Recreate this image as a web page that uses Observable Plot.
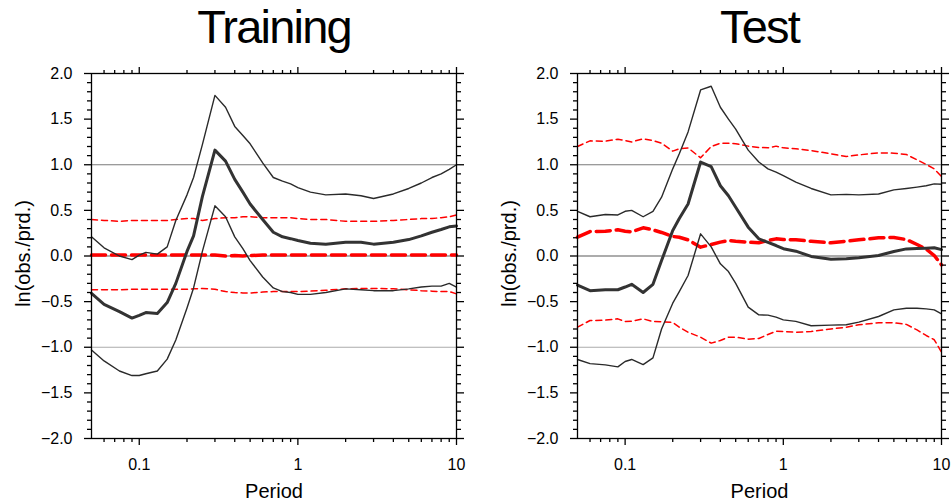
<!DOCTYPE html>
<html>
<head>
<meta charset="utf-8">
<script src="https://cdn.jsdelivr.net/npm/d3@7"></script>
<script src="https://cdn.jsdelivr.net/npm/@observablehq/plot@0.6"></script>
<style>
  html, body { margin: 0; padding: 0; background: white; }
  #chart { display: flex; width: 952px; height: 502px; }
</style>
</head>
<body>
<div id="chart"></div>
<script>
// ---- data ----
const periods = [0.05, 0.06, 0.075, 0.09, 0.1, 0.11, 0.13, 0.15, 0.17, 0.2, 0.22, 0.25, 0.3, 0.35, 0.4, 0.45, 0.5, 0.6, 0.7, 0.8, 0.9, 1, 1.2, 1.5, 2, 2.5, 3, 4, 5, 6, 7, 8, 9, 10];

const trainUpper = [0.21, 0.09, 0.0, -0.04, 0.01, 0.04, 0.02, 0.10, 0.39, 0.67, 0.86, 1.22, 1.76, 1.63, 1.42, 1.32, 1.23, 1.02, 0.86, 0.82, 0.79, 0.75, 0.70, 0.67, 0.68, 0.66, 0.63, 0.68, 0.74, 0.80, 0.86, 0.90, 0.95, 1.0];
const trainMean  = [-0.41, -0.53, -0.61, -0.68, -0.65, -0.62, -0.63, -0.51, -0.30, 0.05, 0.22, 0.65, 1.16, 1.04, 0.84, 0.70, 0.57, 0.40, 0.26, 0.21, 0.19, 0.17, 0.14, 0.13, 0.15, 0.15, 0.13, 0.15, 0.18, 0.22, 0.26, 0.29, 0.32, 0.33];
const trainLower = [-1.03, -1.15, -1.26, -1.31, -1.31, -1.29, -1.26, -1.13, -0.92, -0.57, -0.35, 0.05, 0.55, 0.43, 0.21, 0.08, -0.05, -0.23, -0.35, -0.39, -0.40, -0.42, -0.42, -0.40, -0.36, -0.37, -0.38, -0.38, -0.36, -0.34, -0.33, -0.33, -0.30, -0.34];
const trainRedUpper = [0.40, 0.39, 0.38, 0.39, 0.39, 0.39, 0.39, 0.39, 0.40, 0.41, 0.41, 0.39, 0.41, 0.42, 0.42, 0.43, 0.43, 0.42, 0.42, 0.42, 0.42, 0.41, 0.40, 0.40, 0.38, 0.38, 0.38, 0.39, 0.40, 0.41, 0.41, 0.42, 0.43, 0.45];
const trainRedMean  = [0.01, 0.01, 0.01, 0.01, 0.01, 0.01, 0.01, 0.01, 0.01, 0.01, 0.01, 0.01, 0.01, 0.0, 0.005, 0.0, 0.005, 0.01, 0.01, 0.01, 0.01, 0.01, 0.01, 0.01, 0.01, 0.01, 0.01, 0.01, 0.01, 0.01, 0.01, 0.01, 0.01, 0.01];
const trainRedLower = [-0.37, -0.37, -0.37, -0.365, -0.365, -0.365, -0.365, -0.365, -0.365, -0.365, -0.36, -0.355, -0.365, -0.39, -0.40, -0.405, -0.405, -0.395, -0.39, -0.39, -0.39, -0.39, -0.385, -0.375, -0.36, -0.355, -0.355, -0.36, -0.37, -0.38, -0.385, -0.39, -0.39, -0.415];

const testUpper = [0.49, 0.43, 0.455, 0.45, 0.49, 0.50, 0.43, 0.49, 0.645, 0.955, 1.12, 1.36, 1.82, 1.86, 1.63, 1.50, 1.39, 1.16, 1.03, 0.955, 0.92, 0.88, 0.81, 0.74, 0.67, 0.675, 0.67, 0.68, 0.725, 0.74, 0.755, 0.77, 0.79, 0.787];
const testMean  = [-0.32, -0.38, -0.37, -0.37, -0.34, -0.31, -0.40, -0.31, -0.05, 0.28, 0.41, 0.57, 1.03, 0.98, 0.77, 0.66, 0.535, 0.316, 0.188, 0.15, 0.115, 0.08, 0.053, -0.005, -0.035, -0.031, -0.02, 0.005, 0.05, 0.078, 0.082, 0.086, 0.09, 0.07];
const testLower = [-1.134, -1.18, -1.193, -1.215, -1.156, -1.134, -1.19, -1.116, -0.80, -0.517, -0.39, -0.214, 0.243, 0.10, -0.086, -0.17, -0.30, -0.56, -0.645, -0.648, -0.67, -0.70, -0.716, -0.764, -0.757, -0.754, -0.725, -0.663, -0.59, -0.572, -0.572, -0.58, -0.59, -0.633];
const testRedUpper = [1.20, 1.262, 1.258, 1.28, 1.266, 1.25, 1.284, 1.266, 1.236, 1.149, 1.175, 1.185, 1.076, 1.20, 1.236, 1.236, 1.23, 1.204, 1.19, 1.185, 1.204, 1.185, 1.175, 1.156, 1.12, 1.09, 1.108, 1.13, 1.127, 1.112, 1.054, 1.003, 0.955, 0.87];
const testRedMean  = [0.206, 0.268, 0.272, 0.287, 0.272, 0.265, 0.309, 0.287, 0.258, 0.214, 0.206, 0.177, 0.097, 0.126, 0.152, 0.17, 0.162, 0.152, 0.144, 0.17, 0.188, 0.18, 0.177, 0.162, 0.144, 0.162, 0.177, 0.199, 0.203, 0.18, 0.126, 0.075, 0.005, -0.097];
const testRedLower = [-0.78, -0.707, -0.703, -0.689, -0.718, -0.714, -0.689, -0.718, -0.72, -0.729, -0.78, -0.835, -0.89, -0.955, -0.926, -0.89, -0.89, -0.911, -0.904, -0.86, -0.824, -0.828, -0.835, -0.828, -0.80, -0.78, -0.754, -0.732, -0.732, -0.75, -0.81, -0.871, -0.918, -1.054];

// ---- ticks and labels ----
const xMajor = [0.1, 1, 10];
const xTickLabels = ["0.1", "1", "10"];
const xMinor = [0.06, 0.07, 0.08, 0.09, 0.2, 0.3, 0.4, 0.5, 0.6, 0.7, 0.8, 0.9, 2, 3, 4, 5, 6, 7, 8, 9];
const yMajor = [-2, -1.5, -1, -0.5, 0, 0.5, 1, 1.5, 2];
const yTickLabels = ["\u22122.0", "\u22121.5", "\u22121.0", "\u22120.5", "0.0", "0.5", "1.0", "1.5", "2.0"];
const yMinor = d3.range(-20, 21).filter(k => k % 5 !== 0).map(k => k / 10);
const gridLevels = [1, 0, -1];
const gridColors = ["#7a7a7a", "#5a5a5a", "#ababab"];
const titles = ["Training", "Test"];
const xTitle = "Period";
const yTitle = "ln(obs./prd.)";

const xLabelMap = new Map(xMajor.map((v, i) => [v, xTickLabels[i]]));
const yLabelMap = new Map(yMajor.map((v, i) => [v, yTickLabels[i]]));

const FONT = "'Liberation Sans', Arial, Helvetica, sans-serif";
const W = 476, H = 502, MT = 73, MB = 64;

function rows(vals) { return periods.map((p, i) => ({p, v: vals[i]})); }

function panel(title, s, marginLeft, marginRight) {
  const thin = {x: "p", y: "v", stroke: "#2a2a2a", strokeWidth: 1.4};
  const thick = {x: "p", y: "v", stroke: "#333", strokeWidth: 3};
  const redThin = {x: "p", y: "v", stroke: "#ff0000", strokeWidth: 1.5, strokeDasharray: "6,4"};
  const redThick = {x: "p", y: "v", stroke: "#ff0000", strokeWidth: 3.5, strokeDasharray: "14,6"};
  const svg = Plot.plot({
    width: W,
    height: H,
    marginTop: MT,
    marginBottom: MB,
    marginLeft,
    marginRight,
    style: {fontFamily: FONT, fontSize: "16px", color: "black", background: "white"},
    x: {type: "log", domain: [0.05, 10]},
    y: {domain: [-2, 2]},
    marks: [
      ...gridLevels.map((g, i) => Plot.ruleY([g], {stroke: gridColors[i], strokeWidth: 1.2})),
      Plot.line(rows(s.rUpper), redThin),
      Plot.line(rows(s.rLower), redThin),
      Plot.line(rows(s.rMean), redThick),
      Plot.line(rows(s.upper), thin),
      Plot.line(rows(s.lower), thin),
      Plot.line(rows(s.mean), thick),
      Plot.frame({stroke: "black", strokeWidth: 1.3}),
      // bottom axis
      Plot.axisX(xMajor, {anchor: "bottom", tickSize: 7, tickPadding: 13, strokeWidth: 1.3, fontSize: 16, tickFormat: d => xLabelMap.get(d), label: null}),
      Plot.axisX(xMinor, {anchor: "bottom", tickSize: 4, strokeWidth: 1.3, fill: null, label: null}),
      // top axis
      Plot.axisX(xMajor, {anchor: "top", tickSize: 7, strokeWidth: 1.3, fill: null, label: null}),
      Plot.axisX(xMinor, {anchor: "top", tickSize: 4, strokeWidth: 1.3, fill: null, label: null}),
      // left axis
      Plot.axisY(yMajor, {anchor: "left", tickSize: 7, tickPadding: 12, strokeWidth: 1.3, fontSize: 16, tickFormat: d => yLabelMap.get(d), label: null}),
      Plot.axisY(yMinor, {anchor: "left", tickSize: 4, strokeWidth: 1.3, fill: null, label: null}),
      // right axis
      Plot.axisY(yMajor, {anchor: "right", tickSize: 7, strokeWidth: 1.3, fill: null, label: null}),
      Plot.axisY(yMinor, {anchor: "right", tickSize: 4, strokeWidth: 1.3, fill: null, label: null}),
      // titles
      Plot.text([title], {frameAnchor: "top", text: d => d, lineAnchor: "bottom", dy: -31, fontSize: 47, fill: "black"}),
      Plot.text([xTitle], {frameAnchor: "bottom", text: d => d, lineAnchor: "bottom", dy: 59, fontSize: 20, fill: "black"})
    ]
  });
  // condense the big title slightly (NCL font is narrower)
  d3.select(svg).selectAll("text").filter(function () { return titles.includes(this.textContent); })
    .style("letter-spacing", "-1.8px");
  return svg;
}

function addYTitle(svg, marginLeft) {
  // vertical axis title, centred on the frame, reading upward (start-anchored at measured offset)
  const t = d3.select(svg).append("text")
    .attr("text-anchor", "start")
    .style("text-anchor", "start")
    .attr("font-family", FONT)
    .attr("font-size", 20)
    .attr("fill", "black")
    .text(yTitle);
  let len = 0;
  try { len = t.node().getComputedTextLength(); } catch (e) { len = 0; }
  if (!len) len = 108;
  const cy = (MT + H - MB) / 2;
  t.attr("transform", `translate(${marginLeft - 61},${cy + len / 2 - 2}) rotate(-90)`);
}

const chart = document.getElementById("chart");
const left = panel(titles[0], {upper: trainUpper, mean: trainMean, lower: trainLower, rUpper: trainRedUpper, rMean: trainRedMean, rLower: trainRedLower}, 91, 20);
const right = panel(titles[1], {upper: testUpper, mean: testMean, lower: testLower, rUpper: testRedUpper, rMean: testRedMean, rLower: testRedLower}, 101, 11);
chart.append(left);
chart.append(right);
addYTitle(left, 91);
addYTitle(right, 101);
</script>
</body>
</html>
